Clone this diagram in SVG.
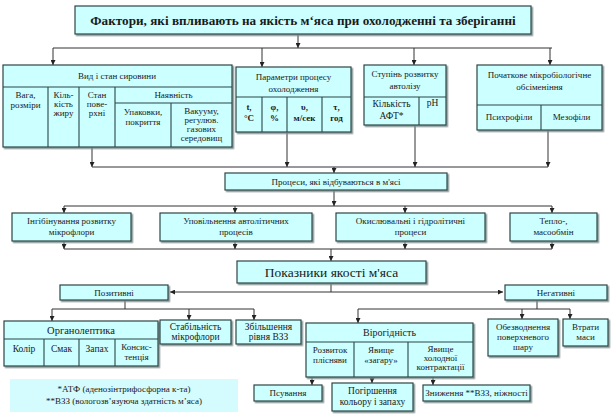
<svg xmlns="http://www.w3.org/2000/svg" width="614" height="417" viewBox="0 0 614 417">
<defs>
<filter id="sh" x="-10%" y="-10%" width="130%" height="140%">
<feDropShadow dx="1.5" dy="1.5" stdDeviation="0.6" flood-color="#7a8a8a" flood-opacity="0.9"/>
</filter>
<marker id="ar" viewBox="0 0 6 6" refX="6" refY="3" markerWidth="5" markerHeight="5" orient="auto" markerUnits="userSpaceOnUse">
<path d="M0,0 L6,3 L0,6 Z" fill="#222"/>
</marker>
</defs>
<style>
.b{fill:#ccffff;stroke:#2b4747;stroke-width:1.2;filter:url(#sh)}
.d{stroke:#2b4747;stroke-width:1.1;fill:none}
.t{font-family:"Liberation Serif","Times New Roman",serif;font-size:9px;fill:#1a1a1a;text-anchor:middle}
.m{font-size:9.5px}
.tb{font-weight:bold}
.l{fill:none;stroke:#333;stroke-width:1}
.a{fill:none;stroke:#333;stroke-width:1;marker-end:url(#ar)}
</style>
<rect width="614" height="417" fill="#ffffff"/>

<g id="connectors">
<path class="a" d="M298,34 V48"/>
<path class="l" d="M53,48 H552"/>
<path class="a" d="M53,48 V65"/>
<path class="a" d="M262,48 V67"/>
<path class="a" d="M414,48 V65"/>
<path class="a" d="M550,48 V65"/>
<path class="a" d="M92,147 V167"/>
<path class="a" d="M287,132 V167"/>
<path class="a" d="M415,125 V167"/>
<path class="a" d="M548,130 V167"/>
<path class="l" d="M92,167 H548"/>
<path class="a" d="M334,167 V173"/>
<path class="a" d="M334,190 V206"/>
<path class="l" d="M64,206 H552"/>
<path class="a" d="M64,206 V213"/>
<path class="a" d="M235,206 V213"/>
<path class="a" d="M405,206 V213"/>
<path class="a" d="M552,206 V213"/>
<path class="a" d="M64,241 V249"/>
<path class="a" d="M235,241 V249"/>
<path class="a" d="M405,241 V249"/>
<path class="a" d="M552,241 V249"/>
<path class="l" d="M64,249 H552"/>
<path class="a" d="M331,249 V261"/>
<path class="l" d="M331,283 V292"/>
<path class="a" d="M331,292 H170"/>
<path class="a" d="M331,292 H503"/>
<path class="l" d="M125,300 V309"/>
<path class="l" d="M52,309 H254"/>
<path class="a" d="M52,309 V321"/>
<path class="a" d="M189,309 V320"/>
<path class="a" d="M254,309 V320"/>
<path class="l" d="M537,300 V309"/>
<path class="l" d="M358,309 H570"/>
<path class="a" d="M358,309 V323"/>
<path class="a" d="M522,309 V319"/>
<path class="a" d="M570,309 V319"/>
<path class="a" d="M312,377 V385"/>
<path class="a" d="M372,377 V383"/>
<path class="a" d="M433,377 V385"/>
</g>

<g id="title">
<rect class="b" x="75" y="6" width="456" height="28"/>
<text class="t tb" x="303" y="24.5" style="font-size:13.2px">Фактори, які впливають на якість м‘яса при охолодженні та зберіганні</text>
</g>

<g id="raw-material">
<rect class="b" x="3" y="65" width="229" height="82"/>
<path class="d" d="M3,87 H232 M48,87 V147 M79,87 V147 M115,87 V147 M115,103 H232 M171,103 V147"/>
<text class="t" x="117" y="79">Вид і стан сировини</text>
<text class="t" x="25.5" y="98">Вага,</text>
<text class="t" x="25.5" y="108">розміри</text>
<text class="t" x="63.5" y="98">Кіль-</text>
<text class="t" x="63.5" y="107">кість</text>
<text class="t" x="63.5" y="116">жиру</text>
<text class="t" x="97" y="98">Стан</text>
<text class="t" x="97" y="107">пове-</text>
<text class="t" x="97" y="116">рхні</text>
<text class="t" x="173.5" y="98">Наявність</text>
<text class="t" x="143" y="115">Упаковки,</text>
<text class="t" x="143" y="125">покриття</text>
<text class="t" x="201.5" y="114">Вакууму,</text>
<text class="t" x="201.5" y="123">регулюв.</text>
<text class="t" x="201.5" y="132">газових</text>
<text class="t" x="201.5" y="141">середовищ</text>
</g>

<g id="cooling-params">
<rect class="b" x="236" y="67" width="115" height="65"/>
<path class="d" d="M236,97 H351 M262,97 V132 M287,97 V132 M322,97 V132"/>
<text class="t" x="293.5" y="80">Параметри процесу</text>
<text class="t" x="293.5" y="92">охолодження</text>
<text class="t tb" x="249" y="110">t,</text>
<text class="t tb" x="249" y="121">°C</text>
<text class="t tb" x="274.5" y="110">φ,</text>
<text class="t tb" x="274.5" y="121">%</text>
<text class="t tb" x="304.5" y="110">υ,</text>
<text class="t tb" x="304.5" y="121">м/сек</text>
<text class="t tb" x="336.5" y="110">τ,</text>
<text class="t tb" x="336.5" y="121">год</text>
</g>

<g id="autolysis">
<rect class="b" x="364" y="65" width="82" height="60"/>
<path class="d" d="M364,97 H446 M419,97 V125"/>
<text class="t" x="405" y="77">Ступінь розвитку</text>
<text class="t" x="405" y="89">автолізу</text>
<text class="t m" x="391.5" y="107">Кількість</text>
<text class="t m" x="391.5" y="119">АФТ*</text>
<text class="t m" x="432.5" y="106">pH</text>
</g>

<g id="microbial">
<rect class="b" x="477" y="65" width="125" height="65"/>
<path class="d" d="M477,105 H602 M541,105 V130"/>
<text class="t" x="539.5" y="78">Початкове мікробіологічне</text>
<text class="t" x="539.5" y="90">обсіменіння</text>
<text class="t" x="509" y="120">Психрофіли</text>
<text class="t" x="571.5" y="120">Мезофіли</text>
</g>

<g id="processes">
<rect class="b" x="225" y="173" width="222" height="17"/>
<text class="t" x="336" y="185">Процеси, які відбуваються в м'ясі</text>
</g>

<g id="inhibition">
<rect class="b" x="12" y="213" width="119" height="28"/>
<text class="t" x="71.5" y="224">Інгібінування розвитку</text>
<text class="t" x="71.5" y="235">мікрофлори</text>
</g>
<g id="slowing">
<rect class="b" x="160" y="213" width="152" height="28"/>
<text class="t" x="236" y="224">Уповільнення автолітичних</text>
<text class="t" x="236" y="235">процесів</text>
</g>
<g id="oxidation">
<rect class="b" x="336" y="213" width="149" height="28"/>
<text class="t" x="410.5" y="224">Окислювальні і гідролітичні</text>
<text class="t" x="410.5" y="235">процеси</text>
</g>
<g id="heat">
<rect class="b" x="510" y="213" width="87" height="28"/>
<text class="t" x="553.5" y="224">Тепло-,</text>
<text class="t" x="553.5" y="235">масообмін</text>
</g>

<g id="indicators">
<rect class="b" x="237" y="261" width="189" height="22"/>
<text class="t" x="331.5" y="277" style="font-size:13.5px">Показники якості м'яса</text>
</g>

<g id="positive">
<rect class="b" x="60" y="285" width="108" height="15"/>
<text class="t" x="114" y="296">Позитивні</text>
</g>
<g id="negative">
<rect class="b" x="505" y="285" width="102" height="15"/>
<text class="t" x="556" y="296">Негативні</text>
</g>

<g id="organoleptic">
<rect class="b" x="4" y="321" width="154" height="45"/>
<path class="d" d="M4,339 H158 M44,339 V366 M79,339 V366 M115,339 V366"/>
<text class="t" x="81" y="334" style="font-size:10.5px">Органолептика</text>
<text class="t m" x="24" y="352">Колір</text>
<text class="t m" x="61.5" y="352">Смак</text>
<text class="t m" x="97" y="352">Запах</text>
<text class="t" x="136.5" y="350">Консис-</text>
<text class="t" x="136.5" y="360">тенція</text>
</g>
<g id="stability">
<rect class="b" x="160" y="320" width="71" height="24"/>
<text class="t m" x="195.5" y="330">Стабільність</text>
<text class="t m" x="195.5" y="340">мікрофлори</text>
</g>
<g id="wbc">
<rect class="b" x="236" y="320" width="65" height="24"/>
<text class="t m" x="268.5" y="330">Збільшення</text>
<text class="t m" x="268.5" y="340">рівня ВЗЗ</text>
</g>

<g id="reliability">
<rect class="b" x="306" y="323" width="167" height="54"/>
<path class="d" d="M306,342 H473 M354,342 V377 M408,342 V377"/>
<text class="t" x="389.5" y="336" style="font-size:10px">Вірогідність</text>
<text class="t" x="330" y="353">Розвиток</text>
<text class="t" x="330" y="363">плісняви</text>
<text class="t" x="381" y="353">Явище</text>
<text class="t" x="381" y="363">«загару»</text>
<text class="t" x="440.5" y="352">Явище</text>
<text class="t" x="440.5" y="361">холодної</text>
<text class="t" x="440.5" y="370">контрактації</text>
</g>
<g id="dehydration">
<rect class="b" x="488" y="319" width="70" height="37"/>
<text class="t" x="523" y="330">Обезводнення</text>
<text class="t" x="523" y="340">поверхневого</text>
<text class="t" x="523" y="350">шару</text>
</g>
<g id="mass-loss">
<rect class="b" x="563" y="319" width="45" height="27"/>
<text class="t" x="585.5" y="330">Втрати</text>
<text class="t" x="585.5" y="340">маси</text>
</g>

<g id="spoilage">
<rect class="b" x="254" y="385" width="68" height="16"/>
<text class="t" x="288" y="396">Псування</text>
</g>
<g id="deterioration">
<rect class="b" x="332" y="383" width="81" height="28"/>
<text class="t m" x="372.5" y="394">Погіршення</text>
<text class="t m" x="372.5" y="405">кольору  і запаху</text>
</g>
<g id="decrease">
<rect class="b" x="423" y="385" width="107" height="16"/>
<text class="t" x="476.5" y="396">Зниження **ВЗЗ, ніжності</text>
</g>

<g id="footnote">
<rect x="10" y="379" width="228" height="33" fill="#d4fbfd"/>
<text class="t" x="124" y="392">*АТФ (аденозінтрифосфорна к-та)</text>
<text class="t" x="124" y="404">**ВЗЗ (вологозв’язуюча здатність м’яса)</text>
</g>
</svg>
